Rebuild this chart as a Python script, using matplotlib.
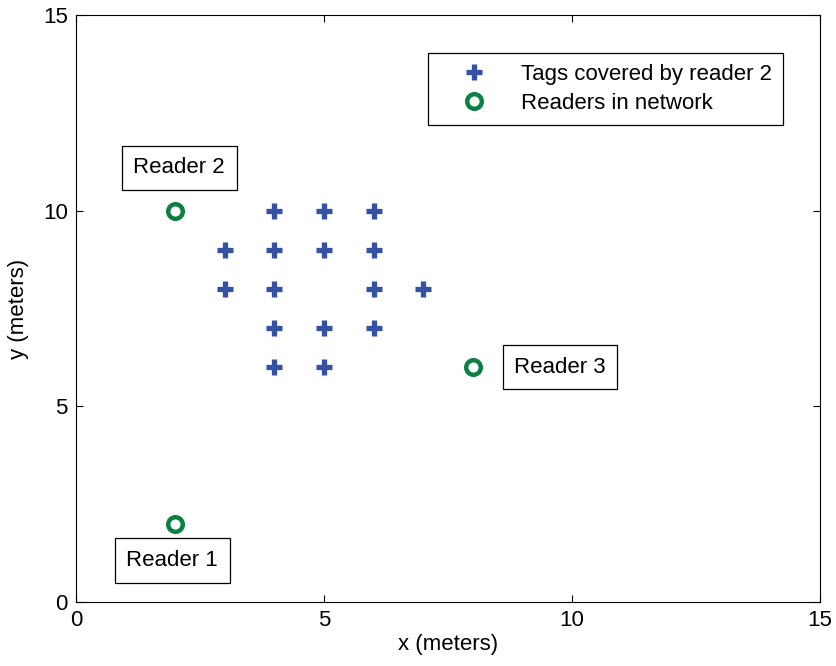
import matplotlib
matplotlib.use('Agg')
import matplotlib.pyplot as plt

plt.rcParams['font.family'] = ['Liberation Sans', 'DejaVu Sans']

# tag positions covered by reader 2
tag_x = [4, 5, 6, 3, 4, 5, 6, 3, 4, 6, 7, 4, 5, 6, 4, 5]
tag_y = [10, 10, 10, 9, 9, 9, 9, 8, 8, 8, 8, 7, 7, 7, 6, 6]

# readers
reader_x = [2, 2, 8]
reader_y = [10, 2, 6]
reader_names = ['Reader 2', 'Reader 1', 'Reader 3']
label_pos = [(2.08, 11.1), (1.94, 1.06), (9.76, 6.0)]

fs = 16

fig = plt.figure(figsize=(8.36, 6.66), dpi=100)
ax = fig.add_axes([0.0909, 0.0961, 0.890, 0.8814])

ax.plot(tag_x, tag_y, linestyle='none', marker='+', markersize=11, markeredgewidth=3.8,
        color='#3451a3', label='Tags covered by reader 2')
ax.plot(reader_x, reader_y, linestyle='none', marker='o', markersize=10.5, markeredgewidth=3.2,
        markerfacecolor='white', markeredgecolor='#0a8142', label='Readers in network')

for name, (lx, ly) in zip(reader_names, label_pos):
    ax.text(lx, ly, name, fontsize=fs, ha='center', va='center',
            bbox=dict(boxstyle='square,pad=0.52', facecolor='white', edgecolor='black', linewidth=0.9))

ax.set_xlim(0, 15)
ax.set_ylim(0, 15)
ax.set_xticks([0, 5, 10, 15])
ax.set_yticks([0, 5, 10, 15])
ax.tick_params(labelsize=fs, direction='in', length=5, top=True, right=True, pad=6)
ax.set_xlabel('x (meters)', fontsize=fs, labelpad=2)
ax.set_ylabel('y (meters)', fontsize=fs, labelpad=10)

leg = ax.legend(loc='upper right', bbox_to_anchor=(783 / 836, 1 - 53 / 666), bbox_transform=fig.transFigure,
                fontsize=fs, fancybox=False, edgecolor='black', framealpha=1, borderpad=0.5,
                handletextpad=0.5, handlelength=3.2, labelspacing=0.35, borderaxespad=0)
leg.get_frame().set_linewidth(0.9)

plt.savefig('out.png', dpi=100)
